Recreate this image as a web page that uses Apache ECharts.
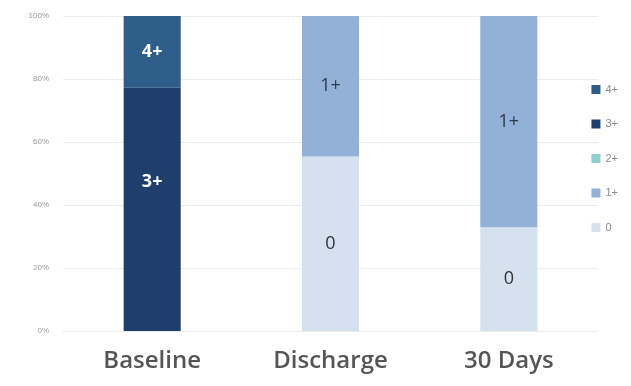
<!DOCTYPE html>
<html><head><meta charset="utf-8">
<script src="https://cdn.jsdelivr.net/npm/echarts@6/dist/echarts.min.js"></script>
<style>html,body{margin:0;padding:0;background:#fff}#c{width:631px;height:386px}</style>
</head><body><div id="c"></div>
<script>
const categories = ['Baseline', 'Discharge', '30 Days'];
const seriesNames = ['0', '1+', '2+', '3+', '4+'];
const v0  = [0, 55.4, 32.9];
const v1  = [0, 44.6, 67.1];
const v2  = [0, 0, 0];
const v3  = [77.2, 0, 0];
const v4  = [22.8, 0, 0];
const yTicks = [0, 20, 40, 60, 80, 100];

const values = [v0, v1, v2, v3, v4];
const colors = ['#d5e1ef', '#93b1d7', '#8ecfd0', '#1e3f6e', '#2f5d8a'];
const labelColors = ['#333', '#2a3a4a', '#333', '#fff', '#fff'];
const labelOffsets = [[0, 0], [0, 0], [0, 0], [0, -28], [0, 0]];

const chart = echarts.init(document.getElementById('c'));
chart.setOption({
  animation: false,
  grid: {left: 63, right: 33, top: 16, bottom: 55},
  legend: {
    orient: 'vertical', right: 8, top: 79, itemGap: 23.5,
    itemWidth: 9, itemHeight: 9, icon: 'rect',
    data: ['4+', '3+', '2+', '1+', '0'],
    textStyle: {color: '#888', fontSize: 11, fontFamily: 'Liberation Sans'}
  },
  xAxis: {
    type: 'category', data: categories,
    axisLine: {lineStyle: {color: '#ececec'}}, axisTick: {show: false},
    axisLabel: {color: '#555', fontSize: 24, fontFamily: 'Open Sans', fontWeight: 600, margin: 18}
  },
  yAxis: {
    type: 'value', min: yTicks[0], max: yTicks[yTicks.length-1], interval: 20,
    axisLabel: {formatter: v => v + '%', color: '#999', fontSize: 8, margin: 14},
    splitLine: {lineStyle: {color: '#ececec'}},
    axisLine: {show: false}, axisTick: {show: false}
  },
  series: seriesNames.map((n, i) => ({
    name: n, type: 'bar', stack: 'a', barWidth: '32%',
    data: values[i],
    itemStyle: {color: colors[i]},
    label: {
      show: true, position: 'inside', offset: labelOffsets[i],
      formatter: p => p.value > 0 ? n : '',
      color: labelColors[i], fontSize: 18, fontFamily: 'Open Sans',
      fontWeight: (i >= 3) ? 'bold' : 'normal'
    }
  }))
});
</script></body></html>
